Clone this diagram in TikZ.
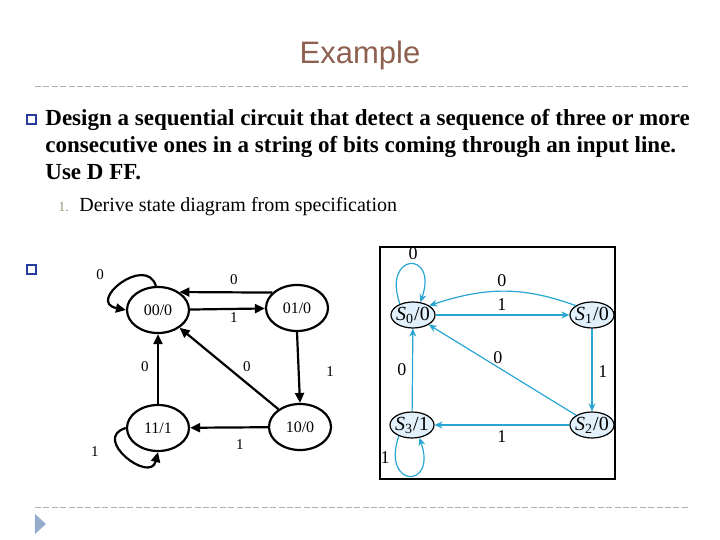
\documentclass[tikz,border=0pt]{standalone}
\usepackage{fontspec}
\setmainfont{Liberation Serif}
\newfontfamily\titlefont{Liberation Sans}
\usetikzlibrary{shapes.geometric, arrows.meta}
\definecolor{titlebrown}{RGB}{141,96,80}
\definecolor{bulletblue}{RGB}{40,60,160}
\definecolor{numgreen}{RGB}{140,155,110}
\definecolor{rulegray}{RGB}{175,175,175}
\definecolor{navblue}{RGB}{150,172,205}
\definecolor{fsmblue}{RGB}{40,165,210}
\definecolor{fsmfill}{RGB}{225,240,250}
\begin{document}
\begin{tikzpicture}[x=0.5pt, y=-0.5pt,
    lstate/.style={draw, ellipse, line width=1.1pt, minimum width=31pt, minimum height=23pt, inner sep=0pt, font=\fontsize{8}{9}\selectfont},
    larr/.style={-{Triangle[length=5pt,width=4.5pt]}, line width=1.1pt},
    llab/.style={font=\fontsize{7.5}{9}\selectfont},
    rstate/.style={draw, ellipse, fill=fsmfill, line width=0.6pt, minimum width=22pt, minimum height=13pt, inner xsep=-2.5pt, inner ysep=0pt, font=\fontsize{10}{11}\selectfont},
    rarr/.style={-{Stealth[length=4pt,width=3.5pt]}, fsmblue, line width=0.6pt},
    rlab/.style={font=\fontsize{9}{10}\selectfont},
    qbox/.style={draw=bulletblue, line width=0.6pt, minimum size=4.5pt, inner sep=0pt},
    rule/.style={rulegray, line width=0.5pt, dash pattern=on 3pt off 1.2pt}]
    \useasboundingbox (0,0) rectangle (720,540);
    \node[font=\titlefont\fontsize{15.5}{18}\selectfont, text=titlebrown] (title) at (360,55) {Example};
    \draw[rule] (35,87) -- (688,87);
    \draw[rule] (35,508) -- (688,508);
    \fill[navblue] (35,514) -- (46,524) -- (35,534) -- cycle;

    \node[qbox] (q1) at (31.5,119.5) {};
    \node[anchor=north west, inner sep=0pt, align=left, font=\fontsize{11.5}{13.5}\selectfont\bfseries] (task) at (45,109)
        {Design a sequential circuit that detect a sequence of three or more\\consecutive ones in a string of bits coming through an input line.\\Use D FF.};
    \node[anchor=base west, inner sep=0pt, text=numgreen, font=\fontsize{7}{8}\selectfont] (n1) at (58,212) {1.};
    \node[anchor=base west, inner sep=0pt, font=\fontsize{10}{11}\selectfont] (step1) at (79,212) {Derive state diagram from specification};
    \node[qbox] (q2) at (31.5,269.5) {};

    \node[lstate] (s00) at (158,310) {00/0};
    \node[lstate] (s01) at (297,308) {01/0};
    \node[lstate] (s10) at (300,427) {10/0};
    \node[lstate] (s11) at (158,428) {11/1};
    \draw[larr] (s00) -- (s01);
    \draw[larr] (s01.148) -- (s00.40);
    \draw[larr] (s01.south) -- (s10.north);
    \draw[larr] (s10) -- (s00);
    \draw[larr] (s10) -- (s11);
    \draw[larr] (s11) -- (s00);
    \draw[larr] (s00.95) .. controls +(-10,-32) and +(-40,-8) .. (s00.west);
    \draw[larr] (s11.west) .. controls +(-35,10) and +(-8,32) .. (s11.south);
    \node[llab] (la) at (234,280) {0};
    \node[llab] (lb) at (234,318) {1};
    \node[llab] (lc) at (100,275) {0};
    \node[llab] (ld) at (330,372) {1};
    \node[llab] (le) at (247,367) {0};
    \node[llab] (lf) at (145,367) {0};
    \node[llab] (lg) at (240,445) {1};
    \node[llab] (lh) at (95,452) {1};

    \draw[line width=0.8pt] (380,247) rectangle (615,479);
    \node[rstate] (S0) at (413,315) {\textit{S}\textsubscript{0}/0};
    \node[rstate] (S1) at (592,315) {\textit{S}\textsubscript{1}/0};
    \node[rstate] (S2) at (592,425) {\textit{S}\textsubscript{2}/0};
    \node[rstate] (S3) at (412,425) {\textit{S}\textsubscript{3}/1};
    \draw[rarr] (S0) -- (S1);
    \draw[rarr] (S1.150) .. controls +(-50,-18) and +(60,-20) .. (S0.30);
    \draw[rarr] (S1) -- (S2);
    \draw[rarr] (S2) -- (S0);
    \draw[rarr] (S2) -- (S3);
    \draw[rarr] (S3) -- (S0);
    \draw[rarr] (S0.140) .. controls +(-18,-52) and +(18,-52) .. (S0.60);
    \draw[rarr] (S3.220) .. controls +(-18,52) and +(18,52) .. (S3.300);
    \node[rlab] (ra) at (413,254) {0};
    \node[rlab] (rb) at (502,281) {0};
    \node[rlab] (rc) at (502,305) {1};
    \node[rlab] (rd) at (498,358) {0};
    \node[rlab] (re) at (603,372) {1};
    \node[rlab] (rf) at (402,370) {0};
    \node[rlab] (rg) at (502,437) {1};
    \node[rlab] (rh) at (385,458) {1};
\end{tikzpicture}
\end{document}
